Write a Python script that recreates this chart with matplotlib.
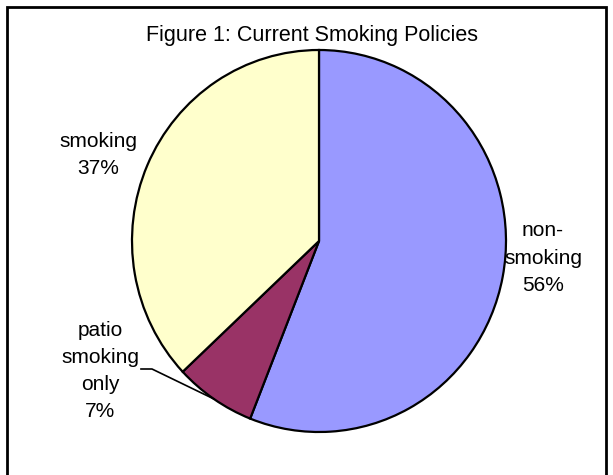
import numpy as np
import matplotlib
matplotlib.use("Agg")
import matplotlib.pyplot as plt
from matplotlib.patches import Rectangle

plt.rcParams["font.family"] = ["Liberation Sans", "DejaVu Sans"]

W, H = 613, 475

categories = ["non-\nsmoking", "patio\nsmoking\nonly", "smoking"]
shares = [56, 7, 37]
colors = ["#9999FF", "#993366", "#FFFFCC"]
title = "Figure 1: Current Smoking Policies"

# pixel layout of the pie (from top-left)
cx, cy, rx, ry = 319, 241, 187, 191

fig = plt.figure(figsize=(W / 100, H / 100), dpi=100)
ax = fig.add_axes([(cx - rx) / W, (H - cy - ry) / H, 2 * rx / W, 2 * ry / H])

wedges, _ = ax.pie(shares, colors=colors, startangle=90, counterclock=False,
                   wedgeprops=dict(edgecolor="black", linewidth=1.6))
ax.set_aspect("auto")
ax.set_xlim(-1, 1)
ax.set_ylim(-1, 1)
ax.axis("off")

# labels, placed in pixel positions
def px(x, y):
    return x / W, 1 - y / H

label_pos = [(543, 258), (100, 371), (98, 155)]
for name, val, (lx, ly) in zip(categories, shares, label_pos):
    fig.text(*px(lx, ly), f"{name}\n{val}%", ha="center", va="center",
             fontsize=15, linespacing=1.55)

# leader line for the small slice
total = sum(shares)
mid = 360 * (shares[0] + shares[1] / 2) / total
edge = (np.sin(np.radians(mid)), np.cos(np.radians(mid)))
lx0 = (141 - cx) / rx
lx1 = (152 - cx) / rx
ly = (cy - 369) / ry
ax.plot([lx0, lx1, edge[0]], [ly, ly, edge[1]], color="black", lw=1.2,
        clip_on=False)

fig.text(*px(312, 35), title, ha="center", va="center", fontsize=15.5)

# outer frame
fig.patches.append(Rectangle((7 / W, -0.05), (606 - 7) / W, 1.05 - 7 / H,
                             transform=fig.transFigure, fill=False,
                             edgecolor="black", linewidth=2))

fig.savefig("out.png", dpi=100)
